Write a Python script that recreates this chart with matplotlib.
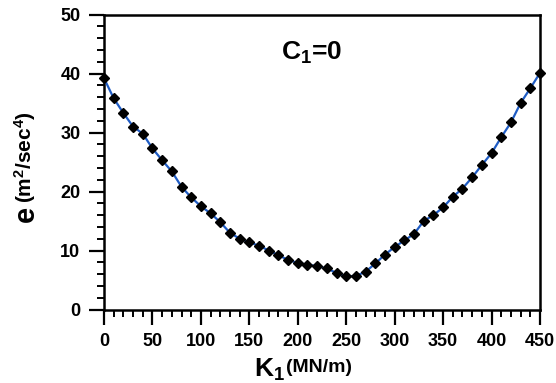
import matplotlib
matplotlib.use("Agg")
import matplotlib.pyplot as plt
from matplotlib.ticker import MultipleLocator

plt.rcParams['font.family'] = ['Liberation Sans', 'DejaVu Sans']
plt.rcParams['font.weight'] = 'bold'
plt.rcParams['mathtext.fontset'] = 'custom'
plt.rcParams['mathtext.rm'] = 'Liberation Sans:bold'
plt.rcParams['mathtext.it'] = 'Liberation Sans:bold'
plt.rcParams['mathtext.bf'] = 'Liberation Sans:bold'

k1 = [0, 10, 20, 30, 40, 50, 60, 70, 80, 90, 100, 110, 120, 130, 140, 150,
      160, 170, 180, 190, 200, 210, 220, 230, 240, 250, 260, 270, 280, 290,
      300, 310, 320, 330, 340, 350, 360, 370, 380, 390, 400, 410, 420, 430,
      440, 450]
e = [39.2, 35.8, 33.3, 31.0, 29.8, 27.3, 25.3, 23.4, 20.8, 19.0, 17.5, 16.3,
     14.8, 13.0, 12.0, 11.4, 10.8, 10.0, 9.2, 8.4, 7.9, 7.6, 7.35, 6.95, 6.2,
     5.6, 5.7, 6.4, 7.8, 9.3, 10.6, 11.7, 12.8, 15.0, 16.0, 17.3, 19.1, 20.5,
     22.4, 24.5, 26.5, 29.2, 31.7, 35.0, 37.5, 40.1]
xticks = [0, 50, 100, 150, 200, 250, 300, 350, 400, 450]
yticks = [0, 10, 20, 30, 40, 50]

fig = plt.figure(figsize=(5.56, 3.83), dpi=100)
ax = fig.add_axes([104/556, 1 - 309.5/383, (540-104)/556, (309.5-14.5)/383])

ax.plot(k1, e, color='#1f5cc4', lw=1.6, marker='D', ms=5.2,
        mfc='black', mec='black', zorder=3, clip_on=False)

ax.set_xlim(0, 450)
ax.set_ylim(0, 50)
ax.set_xticks(xticks)
ax.set_yticks(yticks)
ax.xaxis.set_minor_locator(MultipleLocator(10))
ax.yaxis.set_minor_locator(MultipleLocator(2))
ax.tick_params(which='major', direction='out', length=11, width=1.6,
               labelsize=13, pad=6)
ax.tick_params(which='minor', direction='out', length=5, width=1.4)
for lab in ax.get_xticklabels() + ax.get_yticklabels():
    lab.set_fontweight('bold')
for s in ax.spines.values():
    s.set_linewidth(1.8)

ax.text(0.475, 0.87, r'$C_1$=0', transform=ax.transAxes, ha='center',
        va='center', fontsize=19, fontweight='bold')

# x label
fig.text(285/556, 1 - 377/383, r'$K_1$', ha='right', va='baseline',
         fontsize=19, fontweight='bold')
fig.text(286/556, 1 - 372/383, '(MN/m)', ha='left', va='baseline',
         fontsize=14, fontweight='bold')

# y label
fig.text(40/556, 1 - 222/383, 'e', rotation=90, ha='right', va='bottom',
         fontsize=21, fontweight='bold')
fig.text(38/556, 1 - 203/383, r'(m$^2$/sec$^4$)', rotation=90, ha='right',
         va='bottom', fontsize=15, fontweight='bold')

fig.savefig('out.png', dpi=100)
